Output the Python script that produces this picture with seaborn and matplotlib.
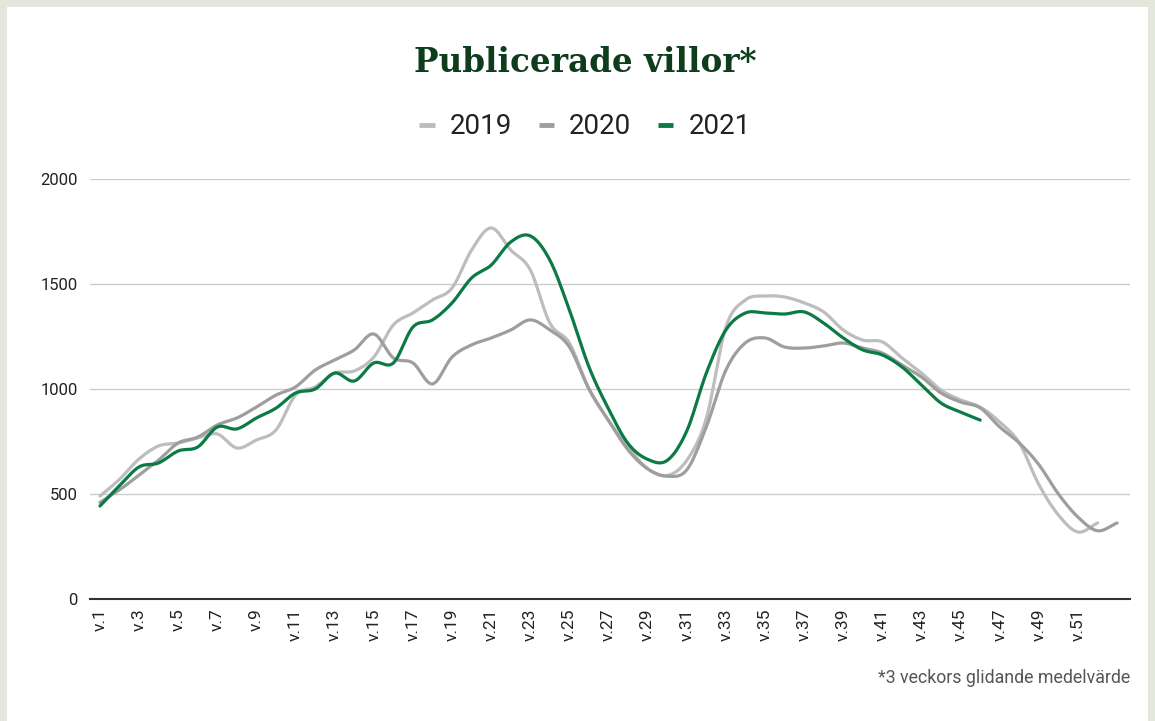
import numpy as np
import pandas as pd
import seaborn as sns
from matplotlib import pyplot as plt
from matplotlib.lines import Line2D
from matplotlib.patches import Rectangle

# ===== Data (weekly, 3-week moving average) =====
weeks = list(range(1, 54))
week_labels = [f"v.{w}" for w in weeks]

y2019 = [490, 570, 667, 729, 743, 767, 786, 719, 757, 805,
         971, 1010, 1076, 1086, 1152, 1305, 1362, 1424, 1481, 1662,
         1767, 1662, 1567, 1314, 1219, 1000, 850, 724, 620, 588,
         660, 860, 1295, 1424, 1443, 1438, 1410, 1367, 1281, 1233,
         1224, 1148, 1076, 995, 948, 914, 843, 743, 545, 400,
         319, 362]

y2020 = [460, 520, 590, 662, 743, 771, 829, 862, 914, 971,
         1010, 1090, 1138, 1186, 1262, 1148, 1124, 1024, 1152, 1210,
         1243, 1281, 1329, 1281, 1200, 1000, 850, 710, 620, 585,
         615, 820, 1090, 1220, 1243, 1200, 1195, 1205, 1219, 1195,
         1171, 1114, 1057, 981, 938, 910, 819, 743, 640, 500,
         390, 325, 362]

y2021 = [443, 540, 629, 648, 705, 724, 819, 810, 862, 909,
         981, 1000, 1076, 1038, 1124, 1124, 1295, 1329, 1410, 1529,
         1590, 1700, 1729, 1614, 1376, 1105, 905, 740, 665, 660,
         800, 1076, 1281, 1362, 1362, 1357, 1367, 1314, 1243, 1186,
         1162, 1105, 1019, 933, 890, 852]

series = {"2019": y2019, "2020": y2020, "2021": y2021}
colors = {"2019": "#bdbdbd", "2020": "#9e9e9e", "2021": "#0b7a44"}


# ===== Smooth curve (Catmull-Rom) for drawing =====
def smooth_curve(x, y, n=12):
    x = np.asarray(x, float)
    y = np.asarray(y, float)
    px = np.concatenate([[2 * x[0] - x[1]], x, [2 * x[-1] - x[-2]]])
    py = np.concatenate([[2 * y[0] - y[1]], y, [2 * y[-1] - y[-2]]])
    xs, ys = [], []
    t = np.linspace(0, 1, n, endpoint=False)
    for i in range(1, len(px) - 2):
        for arr, out in ((px, xs), (py, ys)):
            p0, p1, p2, p3 = arr[i - 1], arr[i], arr[i + 1], arr[i + 2]
            out.extend(0.5 * ((2 * p1) + (-p0 + p2) * t
                              + (2 * p0 - 5 * p1 + 4 * p2 - p3) * t ** 2
                              + (-p0 + 3 * p1 - 3 * p2 + p3) * t ** 3))
    xs.append(x[-1])
    ys.append(y[-1])
    return np.array(xs), np.array(ys)


frames = []
for year, vals in series.items():
    xs, ys = smooth_curve(weeks[:len(vals)], vals)
    frames.append(pd.DataFrame({"week": xs, "value": ys, "year": year}))
df = pd.concat(frames, ignore_index=True)

sns.set_theme(style="white")
plt.rcParams['font.family'] = ['Roboto', 'DejaVu Sans']

fig = plt.figure(figsize=(11.55, 7.21), dpi=100)
fig.patch.set_facecolor("#e4e7db")
fig.patches.append(Rectangle((7 / 1155, 0), 1141 / 1155, 714 / 721,
                             transform=fig.transFigure, facecolor="white",
                             edgecolor="none", zorder=-10))

ax = fig.add_axes([90 / 1155, 122 / 721, 1040 / 1155, 420 / 721])
ax.patch.set_alpha(0.0)

sns.lineplot(data=df, x="week", y="value", hue="year", palette=colors,
             estimator=None, sort=False, lw=2.3, legend=False, ax=ax)

ax.set_xlim(0.49, 53.66)
ax.set_ylim(0, 2000)
ax.set_yticks([0, 500, 1000, 1500, 2000])
ax.yaxis.grid(True, color="#cccccc", lw=1)
ax.set_axisbelow(True)
ax.set_xticks(weeks[::2][:26])
ax.set_xticklabels(week_labels[::2][:26], rotation=90)
ax.tick_params(axis="x", length=0, pad=7, labelsize=12.5, labelcolor="#222222")
ax.tick_params(axis="y", length=0, pad=9, labelsize=12, labelcolor="#222222")
ax.set_xlabel("")
ax.set_ylabel("")
for side in ["left", "right", "top"]:
    ax.spines[side].set_visible(False)
ax.spines["bottom"].set_color("#333333")
ax.spines["bottom"].set_linewidth(1.5)

# title + legend
fig.text(585 / 1155, 1 - 63 / 721, "Publicerade villor*", ha="center", va="center",
         family="DejaVu Serif", fontweight="bold", fontsize=23.5, color="#0d3d1c")

handles = [Line2D([], [], color=colors[y], lw=3.5, solid_capstyle="butt") for y in series]
fig.legend(handles, list(series), loc="center", bbox_to_anchor=(585 / 1155, 1 - 127 / 721),
           ncol=3, frameon=False, fontsize=20, handlelength=0.55, handletextpad=0.55,
           columnspacing=0.95, labelcolor="#222222")

fig.text(1130 / 1155, 1 - 678 / 721, "*3 veckors glidande medelvärde", ha="right",
         va="center", fontsize=12.8, color="#555555")

fig.savefig("out.png", dpi=100, facecolor=fig.get_facecolor())
